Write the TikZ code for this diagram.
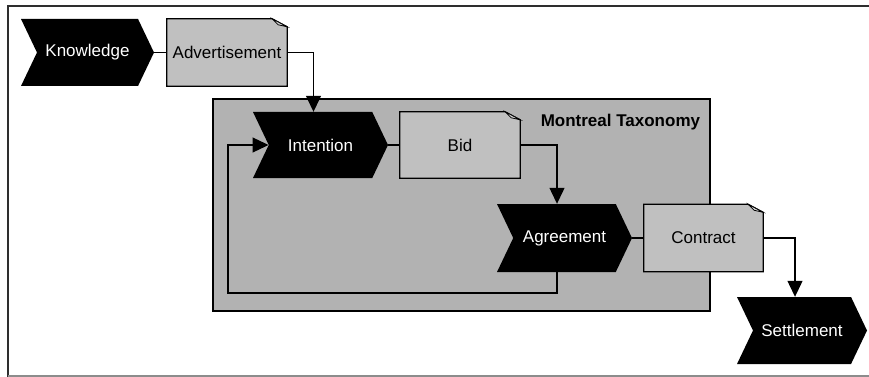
\documentclass[tikz,border=0pt]{standalone}
\usepackage{fontspec}
\setmainfont{Liberation Sans}
\usetikzlibrary{arrows.meta,backgrounds,shapes.symbols}
\definecolor{MtInk}{HTML}{000000}
\definecolor{MtFrame}{HTML}{2E2E2E}
\definecolor{MtRule}{HTML}{8C8C8C}
\definecolor{MtPanel}{HTML}{B2B2B2}
\definecolor{MtDoc}{HTML}{C0C0C0}
\definecolor{MtFold}{HTML}{D8D8D8}
\tikzset{
  mt/chevron/.style={
    shape=signal, signal to=east, signal from=west, signal pointer angle=129,
    fill=MtInk, draw=none, text=white, inner sep=0pt,
    minimum width=133pt, minimum height=67pt,
    font=\fontsize{17}{20}\selectfont
  },
  mt/doc/.style={
    rectangle, inner sep=0pt, minimum width=120pt, minimum height=67pt,
    font=\fontsize{17}{20}\selectfont
  },
  mt/docline/.style={draw=MtInk, line width=1.2pt, fill=MtDoc, line join=miter},
  mt/panel/.style={
    rectangle, draw=MtInk, line width=1.2pt, fill=MtPanel,
    minimum width=497pt, minimum height=212pt
  },
  mt/link/.style={draw=MtInk, line width=1.2pt},
  mt/arrow/.style={
    -{Triangle[length=16pt,width=15pt]}, draw=MtInk, line width=1.2pt
  }
}
\begin{document}
\begin{tikzpicture}[x=1pt,y=-1pt]
  \useasboundingbox (0,0) rectangle (869,377);
  % outer frame
  \draw[MtFrame,line width=2pt] (8,377) -- (8,6) -- (869,6);
  \draw[MtRule,line width=1.5pt] (8,376) -- (869,376);
  % activities
  \node[mt/chevron] (know) at (87.5,52.5) {Knowledge};
  \node[mt/chevron,minimum width=135pt,minimum height=66pt] (intent) at (320.5,145) {Intention};
  \node[mt/chevron,minimum width=135pt,minimum height=68pt] (agree) at (564.5,238) {Agreement};
  \node[mt/chevron,minimum width=130pt] (settle) at (802,330.5) {Settlement};
  % documents
  \node[mt/doc] (advert) at (227,52.5) {Advertisement};
  \node[mt/doc,minimum height=66pt] (bid) at (460,145) {Bid};
  \node[mt/doc,minimum width=119pt] (contract) at (703.5,238) {Contract};
  \begin{scope}[on background layer]
    \node[mt/panel] (montreal) at (461.5,205) {};
    \foreach \d in {advert,bid,contract}{
      \draw[mt/docline] (\d.south west) -- (\d.north west)
        -- ([xshift=-15pt]\d.north east) -- ([yshift=-8pt]\d.north east)
        -- (\d.south east) -- cycle;
      \draw[mt/docline,fill=MtFold,line width=.8pt] ([xshift=-15pt]\d.north east)
        -- ([xshift=-9pt,yshift=-6pt]\d.north east) -- ([yshift=-8pt]\d.north east) -- cycle;
    }
  \end{scope}
  \node[font=\fontsize{17}{20}\selectfont\bfseries,anchor=east]
    (mtitle) at ([xshift=-7pt,yshift=-24pt]montreal.north east) {Montreal Taxonomy};
  % flow
  \coordinate (back) at (228,293);
  \draw[mt/link] (know.east) -- (advert.west);
  \draw[mt/arrow] (advert.east) -| ([xshift=-7pt]intent.north);
  \draw[mt/link] (intent.east) -- (bid.west);
  \draw[mt/arrow] (bid.east) -| ([xshift=-7.5pt]agree.north);
  \draw[mt/link] (agree.east) -- (contract.west);
  \draw[mt/arrow] (contract.east) -| ([xshift=-7pt]settle.north);
  \draw[mt/arrow] ([xshift=-7.5pt]agree.south) |- (back) |- (intent.west);
\end{tikzpicture}
\end{document}
